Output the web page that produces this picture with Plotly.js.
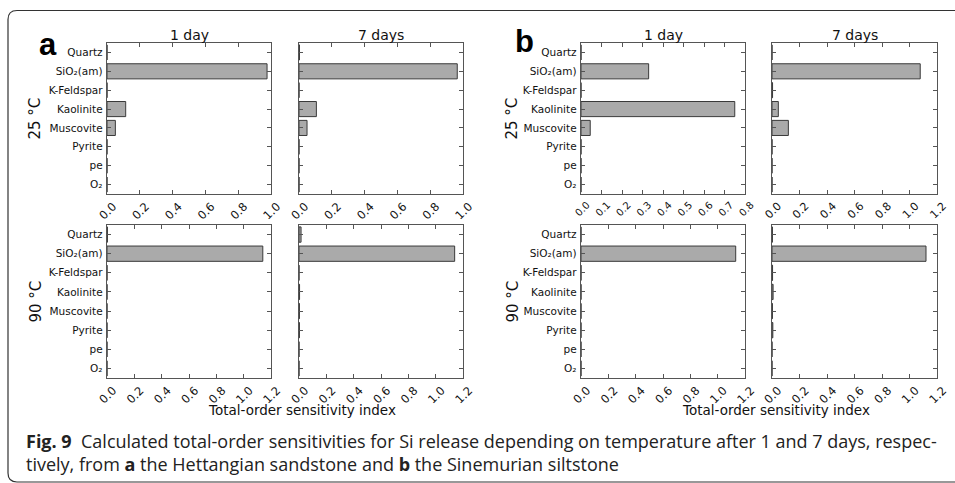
<!DOCTYPE html>
<html>
<head>
<meta charset="utf-8">
<script src="https://cdn.plot.ly/plotly-3.0.1.min.js"></script>
<style>
html,body{margin:0;padding:0;background:#fff;}
#chart{width:955px;height:483px;}
</style>
</head>
<body>
<div id="chart"></div>
<script>
// Categories (top to bottom)
const minerals = ["Quartz", "SiO₂(am)", "K-Feldspar", "Kaolinite", "Muscovite", "Pyrite", "pe", "O₂"];

// (a) Hettangian sandstone
const a25day1 = [0.000, 0.976, 0.000, 0.114, 0.051, 0.000, 0.000, 0.000];
const a25day7 = [0.003, 0.965, 0.000, 0.106, 0.049, 0.000, 0.000, 0.000];
const a90day1 = [0.003, 1.140, 0.000, 0.000, 0.000, 0.000, 0.000, 0.000];
const a90day7 = [0.015, 1.139, 0.000, 0.004, 0.003, 0.003, 0.000, 0.000];

// (b) Sinemurian siltstone
const b25day1 = [0.000, 0.330, 0.000, 0.750, 0.045, 0.000, 0.000, 0.000];
const b25day7 = [0.000, 1.078, 0.004, 0.046, 0.119, 0.000, 0.000, 0.000];
const b90day1 = [0.000, 1.132, 0.000, 0.000, 0.000, 0.000, 0.000, 0.000];
const b90day7 = [0.003, 1.120, 0.004, 0.008, 0.003, 0.006, 0.000, 0.000];

const colTitles = ["1 day", "7 days"];
const rowTitles = ["25 °C", "90 °C"];
const xTitle = "Total-order sensitivity index";

const W = 955, H = 483;
const px = v => v / W;
const py = v => 1 - v / H;

// panel geometry in pixels
const cols = [[107, 271], [299, 463], [581, 745], [772, 937]];
const rows = [[43, 194], [225, 378]];

const panels = [
  {data: a25day1, c: 0, r: 0, range: [0, 1.0], dtick: 0.2, fs: 11.5},
  {data: a25day7, c: 1, r: 0, range: [0, 1.0], dtick: 0.2, fs: 11.5},
  {data: a90day1, c: 0, r: 1, range: [0, 1.2], dtick: 0.2, fs: 11.5},
  {data: a90day7, c: 1, r: 1, range: [0, 1.2], dtick: 0.2, fs: 11.5},
  {data: b25day1, c: 2, r: 0, range: [0, 0.8], dtick: 0.1, fs: 10},
  {data: b25day7, c: 3, r: 0, range: [0, 1.2], dtick: 0.2, fs: 11},
  {data: b90day1, c: 2, r: 1, range: [0, 1.2], dtick: 0.2, fs: 11.5},
  {data: b90day7, c: 3, r: 1, range: [0, 1.2], dtick: 0.2, fs: 11.5}
];

const lineCol = "#555555";

const traces = [];
const layout = {
  width: W, height: H,
  margin: {l: 0, r: 0, t: 0, b: 0},
  paper_bgcolor: "#fff",
  plot_bgcolor: "#fff",
  showlegend: false,
  annotations: [],
  shapes: []
};

panels.forEach((p, i) => {
  const n = i + 1;
  const xa = "x" + (n === 1 ? "" : n);
  const ya = "y" + (n === 1 ? "" : n);
  traces.push({
    type: "bar",
    orientation: "h",
    x: p.data,
    y: minerals,
    xaxis: xa, yaxis: ya,
    width: 0.8,
    marker: {color: "#aaaaaa", line: {color: "#3a3a3a", width: 1}},
    hoverinfo: "x+y"
  });
  const xk = "xaxis" + (n === 1 ? "" : n);
  const yk = "yaxis" + (n === 1 ? "" : n);
  const cx = cols[p.c], ry = rows[p.r];
  layout[xk] = {
    domain: [px(cx[0]), px(cx[1])],
    anchor: ya,
    range: p.range,
    dtick: p.dtick, tick0: 0,
    tickformat: ".1f",
    tickangle: -45,
    ticklabelshift: Math.round(p.fs * 0.55),
    ticklabelstandoff: 0,
    ticks: "inside", ticklen: 4, tickcolor: lineCol,
    mirror: "allticks",
    showline: true, linecolor: lineCol, linewidth: 1.3,
    showgrid: false, zeroline: false,
    tickfont: {family: "DejaVu Sans", size: p.fs, color: "#111"},
    fixedrange: true
  };
  layout[yk] = {
    domain: [py(ry[1]), py(ry[0])],
    anchor: xa,
    type: "category",
    categoryorder: "array",
    categoryarray: minerals,
    range: [7.5, -0.5],
    ticks: "inside", ticklen: 4, tickcolor: lineCol,
    mirror: "allticks",
    showline: true, linecolor: lineCol, linewidth: 1.3,
    showgrid: false, zeroline: false,
    showticklabels: (p.c === 0 || p.c === 2),
    ticklabelstandoff: 1,
    tickfont: {family: "DejaVu Sans", size: 10.5, color: "#111"},
    fixedrange: true
  };
});

const ann = (x, y, text, font, extra) => Object.assign({
  xref: "paper", yref: "paper", x: px(x), y: py(y), text: text,
  showarrow: false, font: font, xanchor: "center", yanchor: "middle"
}, extra || {});

const titleFont = {family: "DejaVu Sans", size: 14, color: "#111"};
// column titles
[[0, 0], [1, 1], [2, 0], [3, 1]].forEach(([c, t]) => {
  layout.annotations.push(ann((cols[c][0] + cols[c][1]) / 2, 35, colTitles[t], titleFont));
});
// row titles
[35, 512].forEach(x0 => {
  rows.forEach((r, i) => {
    layout.annotations.push(ann(x0, (r[0] + r[1]) / 2, rowTitles[i],
      {family: "DejaVu Sans", size: 15, color: "#111"}, {textangle: -90}));
  });
});
// x-axis titles
layout.annotations.push(ann(302, 410, xTitle, {family: "DejaVu Sans", size: 13.5, color: "#111"}));
layout.annotations.push(ann(776, 410, xTitle, {family: "DejaVu Sans", size: 13.5, color: "#111"}));
// panel letters
layout.annotations.push(ann(48, 44, "<b>a</b>", {family: "Liberation Sans", size: 31, color: "#000"}));
layout.annotations.push(ann(524, 42, "<b>b</b>", {family: "Liberation Sans", size: 31, color: "#000"}));
// caption
const capFont = {family: "Open Sans, sans-serif", size: 18, color: "#222"};
layout.annotations.push(ann(24, 441,
  "<b>Fig. 9</b>  Calculated total-order sensitivities for Si release depending on temperature after 1 and 7 days, respec-",
  capFont, {xanchor: "left"}));
layout.annotations.push(ann(24, 464,
  "tively, from <b>a</b> the Hettangian sandstone and <b>b</b> the Sinemurian siltstone",
  capFont, {xanchor: "left"}));

// frame with rounded corners
const L = 8, T = 10.5, R = 975, B = 482, rad = 9;
const path = [
  "M", px(L), py(B - rad),
  "L", px(L), py(T + rad),
  "Q", px(L), py(T), px(L + rad), py(T),
  "L", px(R - rad), py(T),
  "M", px(L), py(B - rad),
  "Q", px(L), py(B), px(L + rad), py(B),
  "L", px(R), py(B)
].join(" ");
layout.shapes.push({type: "path", xref: "paper", yref: "paper", path: path,
  line: {color: "#333", width: 1.2}});

Plotly.newPlot("chart", traces, layout, {displayModeBar: false, staticPlot: true});
</script>
</body>
</html>
